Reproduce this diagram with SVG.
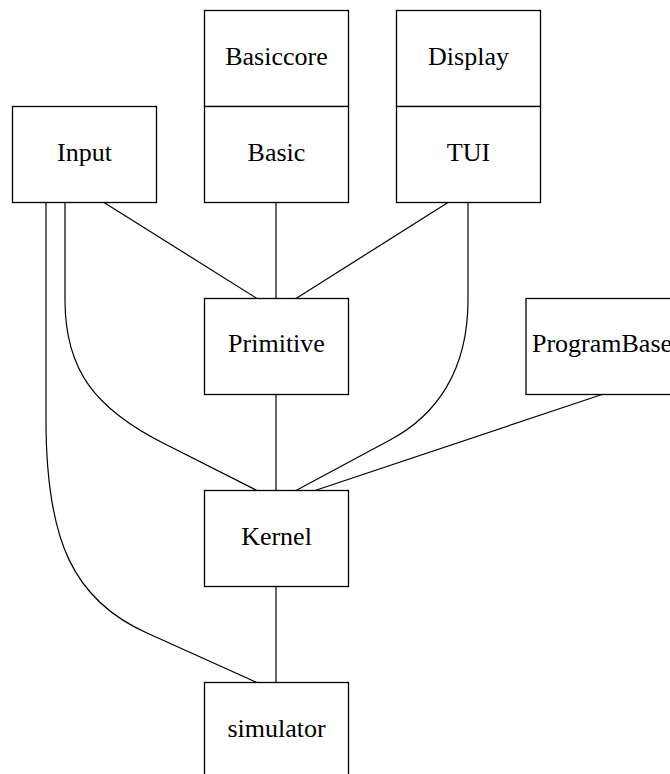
<svg xmlns="http://www.w3.org/2000/svg" width="670" height="774" viewBox="0 0 670 774">
  <style>
    .node rect { fill: #ffffff; stroke: #000000; stroke-width: 1.3; }
    .node text { font-family: "Liberation Serif", "Times New Roman", serif; font-size: 26px; fill: #000000; text-anchor: middle; }
    .edges path { fill: none; stroke: #000000; stroke-width: 1.2; }
  </style>
  <rect x="0" y="0" width="670" height="774" fill="#ffffff"/>

  <!-- connectors -->
  <g id="edges" class="edges">
    <path d="M104,202.5 L257,298.5"/>
    <path d="M276,202.5 L276,298.5"/>
    <path d="M448,202.5 L296,298.5"/>
    <path d="M276,394.5 L276,490.5"/>
    <path d="M65,202.5 L65,300 C65,370 95,409 165,444 L257,490.5"/>
    <path d="M468,202.5 L468,300 C468,370 437,415 390,440 L296,490.5"/>
    <path d="M602,394.5 L315,490.5"/>
    <path d="M276,586.5 L276,682.5"/>
    <path d="M46,202.5 L46,420 C46,540 73,600 147,633 L257,682.5"/>
  </g>

  <g id="basiccore" class="node">
    <rect x="204.5" y="10.5" width="144" height="96"/>
    <text x="276.5" y="64.5">Basiccore</text>
  </g>
  <g id="display" class="node">
    <rect x="396.5" y="10.5" width="144" height="96"/>
    <text x="468.5" y="64.5">Display</text>
  </g>
  <g id="input" class="node">
    <rect x="12.5" y="106.5" width="144" height="96"/>
    <text x="84.5" y="160.5">Input</text>
  </g>
  <g id="basic" class="node">
    <rect x="204.5" y="106.5" width="144" height="96"/>
    <text x="276.5" y="160.5">Basic</text>
  </g>
  <g id="tui" class="node">
    <rect x="396.5" y="106.5" width="144" height="96"/>
    <text x="468.5" y="160.5">TUI</text>
  </g>
  <g id="primitive" class="node">
    <rect x="204.5" y="298.5" width="144" height="96"/>
    <text x="276.5" y="352">Primitive</text>
  </g>
  <g id="programbase" class="node">
    <rect x="526" y="298.5" width="152" height="96"/>
    <text x="602" y="352">ProgramBase</text>
  </g>
  <g id="kernel" class="node">
    <rect x="204.5" y="490.5" width="144" height="96"/>
    <text x="276.5" y="545">Kernel</text>
  </g>
  <g id="simulator" class="node">
    <rect x="204.5" y="682.5" width="144" height="96"/>
    <text x="276.5" y="737">simulator</text>
  </g>
</svg>
